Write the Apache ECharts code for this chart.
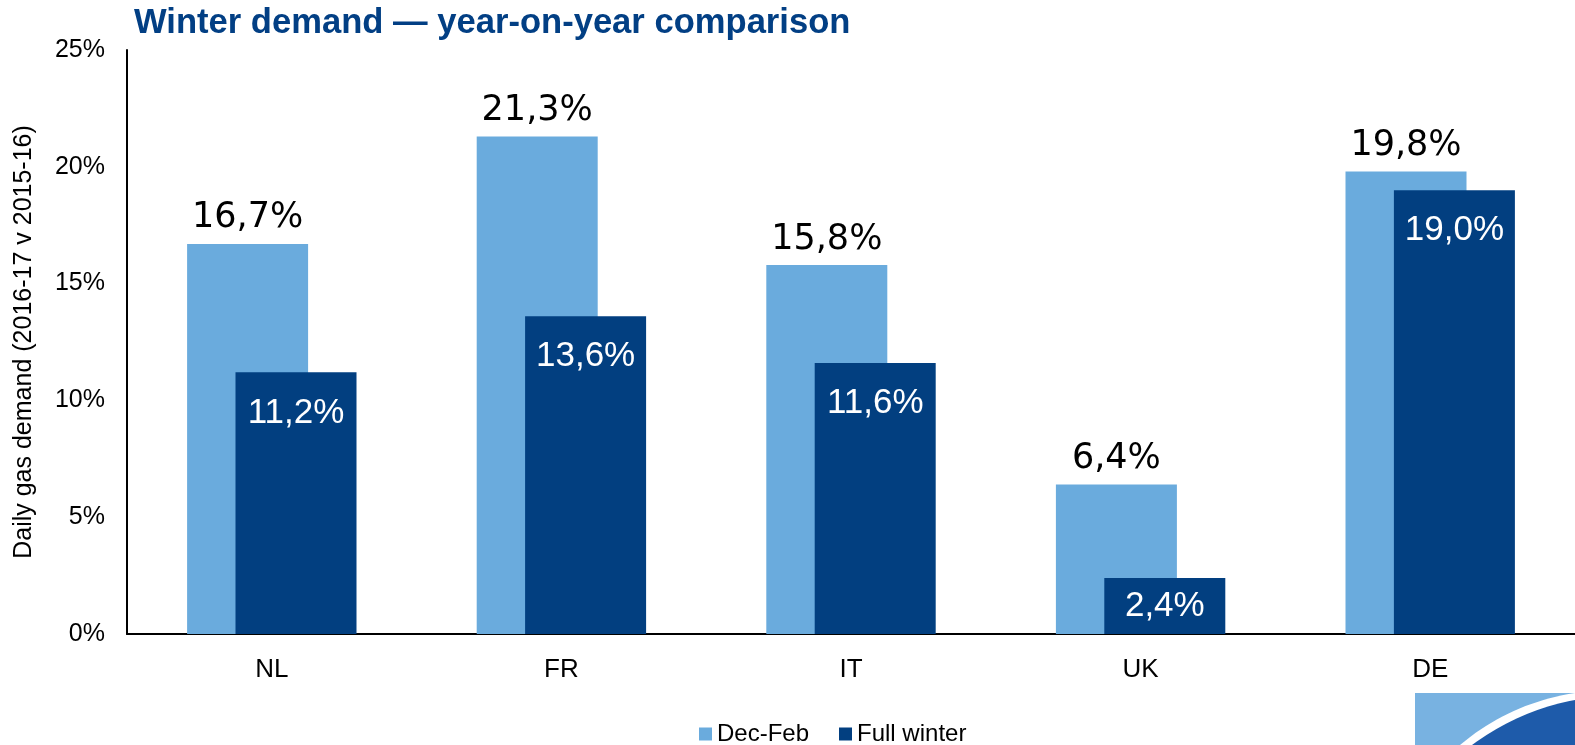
<!DOCTYPE html>
<html>
<head>
<meta charset="utf-8">
<script src="https://cdn.jsdelivr.net/npm/echarts@6/dist/echarts.min.js"></script>
<style>
  html, body { margin: 0; padding: 0; background: #fff; }
  #chart { width: 1575px; height: 745px; }
</style>
</head>
<body>
<div id="chart"></div>
<script>
var categories = ['NL', 'FR', 'IT', 'UK', 'DE'];
var decFeb = [16.7, 21.3, 15.8, 6.4, 19.8];
var fullWinter = [11.2, 13.6, 11.6, 2.4, 19.0];
var seriesNames = ['Dec-Feb', 'Full winter'];

function pct(v) {
  return v.toFixed(1).replace('.', ',') + '%';
}

// corner logo swoosh: quadratic curve from (x0,52) to (160,y1)
function swoosh(x0, y1, cx, cy) {
  var pts = [];
  for (var i = 0; i <= 20; i++) {
    var t = i / 20;
    var x = (1 - t) * (1 - t) * x0 + 2 * (1 - t) * t * cx + t * t * 160;
    var y = (1 - t) * (1 - t) * 52 + 2 * (1 - t) * t * cy + t * t * y1;
    pts.push([x, y]);
  }
  pts.push([160, 52]);
  return pts;
}

// short bars get their label centred, like Excel does
var fullWinterData = fullWinter.map(function (v) {
  return v < 5 ? { value: v, label: { position: 'inside', distance: 0 } } : v;
});

var chart = echarts.init(document.getElementById('chart'));

var option = {
  animation: false,
  title: {
    text: 'Winter demand \u2014 year-on-year comparison',
    left: 129,
    top: 1,
    textStyle: {
      fontFamily: 'Liberation Sans',
      fontWeight: 'bold',
      fontSize: 34.6,
      color: '#023F84'
    }
  },
  legend: {
    data: seriesNames,
    top: 717,
    left: 694,
    itemWidth: 13,
    itemHeight: 13,
    itemGap: 30,
    icon: 'rect',
    textStyle: { fontFamily: 'Liberation Sans', fontSize: 24, color: '#000' }
  },
  grid: {
    left: 127,
    right: 0,
    top: 50,
    bottom: 111
  },
  xAxis: {
    type: 'category',
    data: categories,
    axisLine: { lineStyle: { color: '#000', width: 2 } },
    axisTick: { show: false },
    axisLabel: { fontFamily: 'Liberation Sans', fontSize: 26, color: '#000', margin: 23 }
  },
  yAxis: {
    type: 'value',
    min: 0,
    max: 25,
    interval: 5,
    name: 'Daily gas demand (2016-17 v 2015-16)',
    nameLocation: 'middle',
    nameRotate: 90,
    nameGap: 90,
    nameTextStyle: { fontFamily: 'Liberation Sans', fontSize: 25, color: '#000' },
    axisLine: { show: true, lineStyle: { color: '#000', width: 2 } },
    axisTick: { show: false },
    splitLine: { show: false },
    axisLabel: {
      fontFamily: 'Liberation Sans', fontSize: 25, color: '#000', margin: 22,
      formatter: function (v) { return v + '%'; }
    }
  },
  series: [
    {
      name: seriesNames[0],
      type: 'bar',
      data: decFeb,
      barWidth: 121,
      barGap: '-60%',
      itemStyle: { color: '#6AABDD' },
      label: {
        show: true,
        position: 'top',
        distance: 8,
        fontFamily: 'DejaVu Sans',
        fontSize: 35,
        color: '#000',
        formatter: function (p) { return pct(p.value); }
      }
    },
    {
      name: seriesNames[1],
      type: 'bar',
      data: fullWinterData,
      barWidth: 121,
      itemStyle: { color: '#023F80' },
      label: {
        show: true,
        position: 'insideTop',
        distance: 23,
        fontFamily: 'Liberation Sans',
        fontSize: 35,
        color: '#fff',
        formatter: function (p) { return pct(p.value); }
      }
    }
  ],
  graphic: [
    {
      type: 'group',
      x: 1415,
      y: 693,
      silent: true,
      children: [
        { type: 'rect', shape: { x: 0, y: 0, width: 160, height: 52 }, style: { fill: '#78B2E1' } },
        { type: 'polygon', shape: { points: swoosh(45, 0, 95, 10) }, style: { fill: '#fff' } },
        { type: 'polygon', shape: { points: swoosh(57, 7, 105, 17) }, style: { fill: '#1E5BAA' } }
      ]
    }
  ]
};

chart.setOption(option);
</script>
</body>
</html>
